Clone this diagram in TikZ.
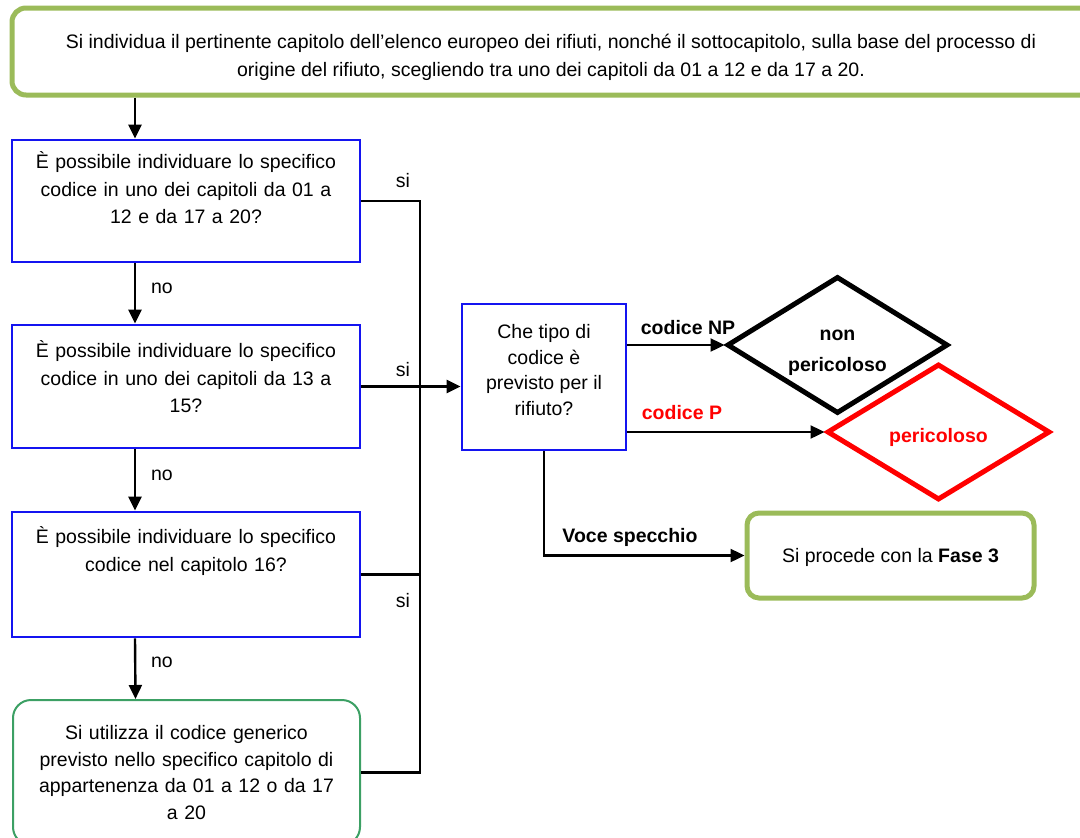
\documentclass[tikz,border=0pt]{standalone}
\usepackage{fontspec}
\setmainfont{Liberation Sans}
\usetikzlibrary{shapes.geometric,arrows.meta}
\definecolor{olivegreen}{RGB}{155,187,89}
\definecolor{genericgreen}{RGB}{60,160,100}
\definecolor{boxblue}{RGB}{20,20,240}
\begin{document}
\begin{tikzpicture}[x=1pt,y=-1pt,
  txt/.style={font=\fontsize{19.5}{27.5}\selectfont},
  topbox/.style={draw=olivegreen,line width=5pt,rounded corners=14pt,inner sep=0pt},
  qbox/.style={draw=boxblue,line width=2.8pt,inner sep=0pt},
  genbox/.style={draw=genericgreen,line width=2pt,rounded corners=18pt,inner sep=0pt},
  dia/.style={shape=diamond,line width=5pt,inner sep=0pt},
  conn/.style={line width=2.4pt},
  arr/.style={line width=2.4pt,-{Triangle[length=14pt,width=13pt]}},
  lbl/.style={txt,inner sep=0pt},
  bl/.style={inner sep=0pt,font=\fontsize{19.5}{27.5}\selectfont\bfseries}
]
\useasboundingbox (0,0) rectangle (1080,838);
% top box
\node[topbox,minimum width=1083pt,minimum height=87pt] (top) at (553.5,51.5) {};
\node[lbl,align=center,font=\fontsize{19.5}{28}\selectfont] (t0) at (551,57)
  {Si individua il pertinente capitolo dell’elenco europeo dei rifiuti, nonché il sottocapitolo, sulla base del processo di\\origine del rifiuto, scegliendo tra uno dei capitoli da 01 a 12 e da 17 a 20.};
% question boxes
\node[qbox,minimum width=348pt,minimum height=122pt] (b1) at (186,201) {};
\node[qbox,minimum width=348pt,minimum height=123pt] (b2) at (186,386.5) {};
\node[qbox,minimum width=348pt,minimum height=125pt] (b3) at (186,574.5) {};
\node[genbox,minimum width=347pt,minimum height=145pt] (b4) at (186.5,772.5) {};
\node[lbl,anchor=north,align=center,text width=330pt] (t1) at ([yshift=-13pt]b1.north)
  {È possibile individuare lo specifico\\codice in uno dei capitoli da 01 a\\12 e da 17 a 20?};
\node[lbl,anchor=north,align=center,text width=330pt] (t2) at ([yshift=-17pt]b2.north)
  {È possibile individuare lo specifico\\codice in uno dei capitoli da 13 a\\15?};
\node[lbl,anchor=north,align=center,text width=330pt] (t3) at ([yshift=-16pt]b3.north)
  {È possibile individuare lo specifico\\codice nel capitolo 16?};
\node[lbl,anchor=north,align=center,text width=330pt,font=\fontsize{19.5}{26.5}\selectfont] (t4) at ([yshift=-26.5pt]b4.north)
  {Si utilizza il codice generico\\previsto nello specifico capitolo di\\appartenenza da 01 a 12 o da 17\\a 20};
% che box
\node[qbox,minimum width=164pt,minimum height=146pt] (che) at (544,377) {};
\node[lbl,align=center,font=\fontsize{19.5}{25.7}\selectfont] (tche) at (544,370) {Che tipo di\\codice è\\previsto per il\\rifiuto?};
% diamonds
\node[dia,draw=black,minimum width=221pt,minimum height=137pt] (np) at (837.5,345) {};
\node[bl,align=center,font=\fontsize{19.5}{31}\selectfont\bfseries] (tnp) at (837.5,353) {non\\pericoloso};
\node[dia,draw=red,minimum width=223pt,minimum height=136pt] (p) at (938.5,432) {};
\node[bl,text=red] (tp) at (938.5,437) {pericoloso};
% fase box
\node[topbox,rounded corners=12pt,minimum width=287pt,minimum height=85pt] (fase) at (890.5,555.5) {};
\node[lbl] (tfase) at (890.5,557) {Si procede con la \textbf{Fase 3}};
% vertical flow
\draw[arr] ([xshift=-51pt]b1.north |- top.south) -- ([xshift=-51pt]b1.north);
\draw[arr] ([xshift=-51pt]b1.south) -- ([xshift=-51pt]b2.north);
\draw[arr] ([xshift=-51pt]b2.south) -- ([xshift=-51pt]b3.north);
\draw[arr] ([xshift=-51pt]b3.south) -- ([xshift=-51pt]b4.north);
\node[lbl] (no1) at (162,288) {no};
\node[lbl] (no2) at (162,475) {no};
\node[lbl] (no3) at (162,662) {no};
% collector line
\coordinate (jt) at (420,201);
\coordinate (jb) at (420,772.5);
\draw[conn] (b1.east) -- (jt) -- (jb) -- (b4.east);
\draw[conn] (b3.east) -- (b3.east -| jt);
\draw[arr] (b2.east) -- (b2.east -| che.west);
\node[lbl] (si1) at (403,181) {si};
\node[lbl] (si2) at (403,370) {si};
\node[lbl] (si3) at (403,601) {si};
% outcomes
\draw[arr] (che.east |- np.west) -- (np.west);
\draw[arr] (che.east |- p.west) -- (p.west);
\node[bl] (lnp) at (688,328) {codice NP};
\node[bl,text=red] (lp) at (682,413) {codice P};
\draw[arr] (che.south) -- (che.south |- fase.west) -- (fase.west);
\node[bl] (lvs) at (630,537) {Voce specchio};
\end{tikzpicture}
\end{document}
